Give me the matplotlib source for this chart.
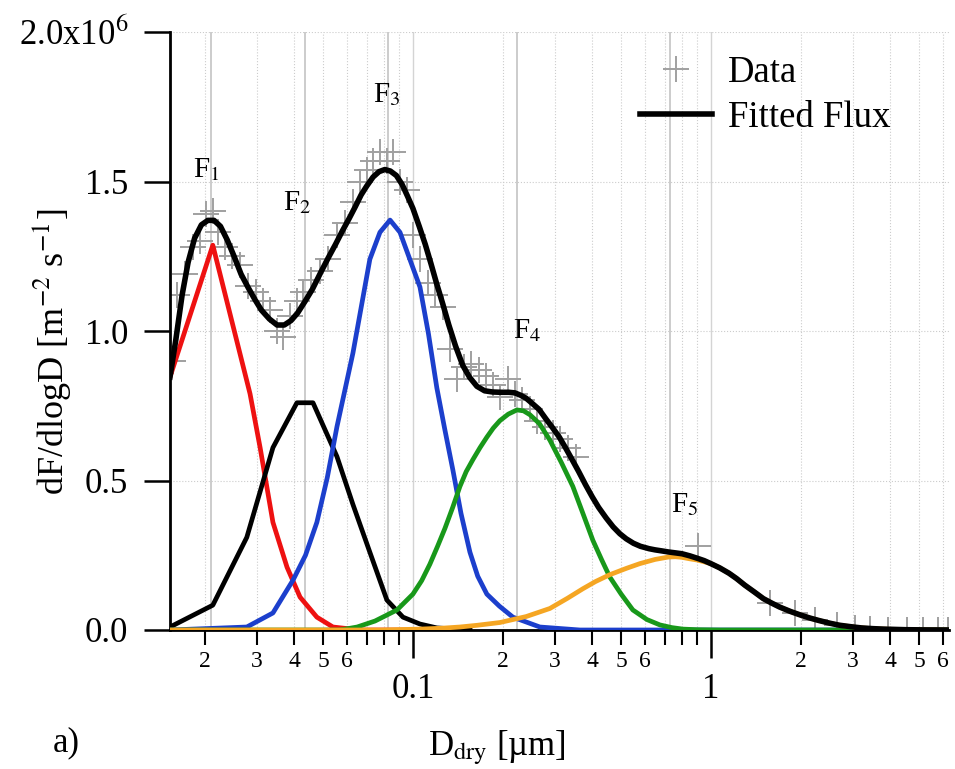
import numpy as np
import matplotlib.pyplot as plt
from matplotlib.lines import Line2D
from matplotlib.ticker import LogLocator, FuncFormatter, FixedLocator

plt.rcParams['font.family'] = ['Liberation Serif', 'DejaVu Serif']
plt.rcParams['mathtext.fontset'] = 'stix'

# values in units of 1e6 m^-2 s^-1, diameters in um
data_d = [0.01565, 0.01615, 0.01718, 0.01827, 0.01929, 0.0202, 0.02132, 0.02216,
          0.02339, 0.0247, 0.02627, 0.02795, 0.02973, 0.03138, 0.03312, 0.03497,
          0.03663, 0.03866, 0.04081, 0.04275, 0.04547, 0.04874, 0.05185, 0.05559,
          0.05913, 0.0629, 0.06639, 0.07008, 0.07341, 0.07749, 0.0818, 0.08568,
          0.09045, 0.09548, 0.1, 0.1056, 0.1123, 0.1185, 0.1261, 0.1331, 0.1405,
          0.1483, 0.1565, 0.1665, 0.1758, 0.1855, 0.1958, 0.2084, 0.2199, 0.2321,
          0.247, 0.2607, 0.2773, 0.295, 0.3113, 0.3312, 0.3524,
          0.9045, 1.578, 1.913, 2.234, 2.647, 3.042, 3.417, 3.926, 4.547, 5.145,
          5.776, 6.243]
data_f = [0.90, 1.12, 1.19, 1.28, 1.30, 1.39, 1.40, 1.33, 1.28, 1.25, 1.22, 1.15,
          1.13, 1.10, 1.07, 1.00, 0.98, 1.05, 1.10, 1.13, 1.17, 1.20, 1.24, 1.32,
          1.36, 1.43, 1.50, 1.54, 1.57, 1.60, 1.57, 1.60, 1.50, 1.47, 1.32, 1.24,
          1.16, 1.12, 1.08, 0.94, 0.84, 0.88, 0.89, 0.87, 0.85, 0.82, 0.78, 0.84,
          0.79, 0.77, 0.74, 0.70, 0.68, 0.66, 0.64, 0.61, 0.58,
          0.28, 0.09, 0.057, 0.033, 0.017, 0.007, 0.003, 0.001, 0.0, 0.0, 0.0, 0.0]

fit_d = [0.0153, 0.016, 0.0168, 0.0176, 0.0185, 0.0195, 0.0205, 0.0215, 0.0226,
         0.0238, 0.0251, 0.0265, 0.028, 0.0295, 0.031, 0.033, 0.035, 0.037, 0.039,
         0.041, 0.0435, 0.046, 0.049, 0.052, 0.055, 0.058, 0.061, 0.064, 0.067,
         0.070, 0.0735, 0.077, 0.0805, 0.084, 0.088, 0.092, 0.096, 0.100, 0.105,
         0.110, 0.115, 0.120, 0.126, 0.132, 0.139, 0.147, 0.155, 0.164, 0.174,
         0.185, 0.197, 0.21, 0.22, 0.23, 0.24, 0.25, 0.265, 0.28, 0.295, 0.31,
         0.325, 0.34, 0.36, 0.38, 0.40, 0.42, 0.445, 0.47, 0.495, 0.52, 0.55, 0.58,
         0.62, 0.65, 0.69, 0.72, 0.76, 0.80, 0.85, 0.90, 0.95, 1.0, 1.07, 1.15,
         1.22, 1.3, 1.4, 1.5, 1.6, 1.7, 1.85, 2.0, 2.15, 2.3, 2.5, 2.7, 2.95, 3.2,
         3.5, 3.8, 4.5, 5.3, 6.3]
fit_total = [0.846, 0.97, 1.12, 1.23, 1.31, 1.355, 1.37, 1.37, 1.35, 1.305, 1.25,
             1.19, 1.145, 1.105, 1.07, 1.04, 1.02, 1.02, 1.035, 1.06, 1.10, 1.14,
             1.195, 1.245, 1.29, 1.335, 1.375, 1.415, 1.455, 1.485, 1.515, 1.533,
             1.54, 1.535, 1.52, 1.49, 1.45, 1.41, 1.35, 1.29, 1.225, 1.16, 1.09,
             1.02, 0.95, 0.885, 0.845, 0.815, 0.80, 0.796, 0.795, 0.795, 0.793,
             0.785, 0.775, 0.76, 0.738, 0.705, 0.675, 0.645, 0.61, 0.575, 0.53,
             0.485, 0.445, 0.41, 0.375, 0.345, 0.322, 0.305, 0.29, 0.28, 0.272,
             0.268, 0.264, 0.261, 0.258, 0.255, 0.248, 0.24, 0.232, 0.222, 0.208,
             0.19, 0.172, 0.15, 0.127, 0.105, 0.09, 0.077, 0.062, 0.05, 0.04, 0.032,
             0.023, 0.016, 0.011, 0.007, 0.0045, 0.003, 0.001, 0.0003, 0.0]

f1_d = [0.0153, 0.0213, 0.0284, 0.0307, 0.0339, 0.0378, 0.0418, 0.0476, 0.0539, 0.0664, 0.1]
f1 = [0.846, 1.287, 0.79, 0.61, 0.36, 0.21, 0.11, 0.043, 0.01, 0.0, 0.0]

f2_d = [0.0153, 0.0213, 0.0277, 0.0339, 0.0408, 0.0462, 0.0556, 0.0629, 0.0717,
        0.0818, 0.0926, 0.1056, 0.1203, 0.1554]
f2 = [0.01, 0.083, 0.31, 0.61, 0.76, 0.76, 0.58, 0.42, 0.26, 0.10, 0.043, 0.02, 0.007, 0.0]

f3_d = [0.0153, 0.0277, 0.0339, 0.0396, 0.0436, 0.0476, 0.0516, 0.0556, 0.0629,
        0.0717, 0.0775, 0.0838, 0.0905, 0.1056, 0.1128, 0.1203, 0.128, 0.1362,
        0.145, 0.1554, 0.165, 0.1771, 0.195, 0.2166, 0.2668, 0.3634, 6.3]
f3 = [0.0, 0.01, 0.057, 0.167, 0.25, 0.36, 0.51, 0.68, 0.926, 1.24, 1.33, 1.371,
      1.33, 1.147, 0.99, 0.81, 0.67, 0.535, 0.39, 0.26, 0.18, 0.12, 0.08, 0.043,
      0.01, 0.0, 0.0]

f4_d = [0.0153, 0.0569, 0.065, 0.0746, 0.0884, 0.1, 0.107, 0.114, 0.121, 0.1281,
        0.136, 0.1438, 0.151, 0.159, 0.168, 0.1771, 0.186, 0.1958, 0.209, 0.2234,
        0.235, 0.247, 0.266, 0.2882, 0.315, 0.3442, 0.372, 0.4018, 0.43, 0.4581,
        0.50, 0.5473, 0.61, 0.6745, 0.74, 0.8054, 0.9, 1.072, 6.3]
f4 = [0.0, 0.0, 0.01, 0.03, 0.067, 0.12, 0.165, 0.22, 0.28, 0.34, 0.41, 0.48, 0.53,
      0.57, 0.61, 0.645, 0.675, 0.70, 0.722, 0.736, 0.733, 0.72, 0.69, 0.635, 0.56,
      0.48, 0.39, 0.30, 0.235, 0.177, 0.12, 0.067, 0.035, 0.017, 0.008, 0.003,
      0.001, 0.0, 0.0]

f5_d = [0.0153, 0.0775, 0.1056, 0.125, 0.1438, 0.165, 0.1958, 0.24, 0.2882, 0.33,
        0.372, 0.41, 0.4581, 0.52, 0.5777, 0.65, 0.72, 0.76, 0.80, 0.85, 0.90, 0.95,
        1.0, 1.07, 1.15, 1.22, 1.3, 1.4, 1.5, 1.6, 1.7, 1.85, 2.0, 2.15, 2.3, 2.5,
        2.7, 2.95, 3.2, 3.5, 3.8, 4.5, 6.3]
f5 = [0.0, 0.0, 0.003, 0.006, 0.01, 0.016, 0.025, 0.045, 0.072, 0.106, 0.138, 0.162,
      0.185, 0.206, 0.222, 0.236, 0.244, 0.245, 0.243, 0.238, 0.234, 0.228, 0.222,
      0.208, 0.19, 0.172, 0.15, 0.127, 0.105, 0.09, 0.077, 0.062, 0.05, 0.04, 0.032,
      0.023, 0.016, 0.011, 0.007, 0.0045, 0.003, 0.001, 0.0]

mode_d = [0.021, 0.0435, 0.0824, 0.223, 0.73]
mode_names = ['F$_1$', 'F$_2$', 'F$_3$', 'F$_4$', 'F$_5$']

fig = plt.figure(figsize=(9.55, 7.69), dpi=100)
ax = fig.add_axes([170/955, 1 - 630/769, 779/955, 598/769])

for d in mode_d:
    ax.axvline(d, color='#c8c8c8', lw=1.3, zorder=0)

ax.plot(data_d, data_f, ls='none', marker='+', ms=19, mew=1.4, color='#a0a0a0', zorder=1)

ax.plot(f1_d, f1, color='#ee1111', lw=3.4, zorder=2)
ax.plot(f2_d, f2, color='black', lw=3.4, zorder=2)
ax.plot(f3_d, f3, color='#1c3fcc', lw=3.4, zorder=3)
ax.plot(f4_d, f4, color='#18981a', lw=3.4, zorder=4)
ax.plot(f5_d, f5, color='#f5a623', lw=3.4, zorder=5)
ax.plot(fit_d, fit_total, color='black', lw=4.0, zorder=6)

ax.set_xscale('log')
ax.set_xlim(0.0153, 6.3)
ax.set_ylim(0, 2.0)

ax.xaxis.set_major_locator(FixedLocator([0.1, 1]))
ax.xaxis.set_major_formatter(FuncFormatter(lambda v, p: '%g' % v))
ax.xaxis.set_minor_locator(LogLocator(base=10, subs=np.arange(2, 10)))

def minor_label(v, pos):
    digit = int(round(v / 10 ** np.floor(np.log10(v) + 1e-9)))
    return str(digit) if digit <= 6 else ''

ax.xaxis.set_minor_formatter(FuncFormatter(minor_label))

ax.set_yticks([0, 0.5, 1.0, 1.5, 2.0])
ax.set_yticklabels(['0.0', '0.5', '1.0', '1.5', '2.0x10$^{6}$'])

ax.tick_params(axis='x', which='major', direction='out', length=20, width=1.8,
               labelsize=25, pad=11)
ax.tick_params(axis='x', which='minor', direction='out', length=11, width=1.5,
               labelsize=17, pad=4)
ax.tick_params(axis='y', direction='out', length=19, width=1.8, labelsize=25, pad=11)

ax.grid(True, which='major', axis='x', color='#d4d4d4', lw=1.0)
ax.grid(True, which='minor', axis='x', color='#cccccc', lw=0.8, ls=':')
ax.grid(True, which='major', axis='y', color='#cccccc', lw=0.8, ls=':')
ax.set_axisbelow(True)

for side in ['top', 'right']:
    ax.spines[side].set_visible(False)
ax.spines['left'].set_linewidth(2)
ax.spines['bottom'].set_linewidth(2)

ax.set_ylabel('dF/dlogD [m$^{-2}$ s$^{-1}$]', fontsize=26)
ax.yaxis.set_label_coords(-0.125, 0.465)
ax.set_xlabel('D$_{\\mathrm{dry}}$ [µm]', fontsize=25)
ax.xaxis.set_label_coords(0.42, -0.165)

label_pos = [(0.0202, 1.54), (0.0408, 1.43), (0.0818, 1.79), (0.241, 1.0), (0.818, 0.42)]
for name, (x, y) in zip(mode_names, label_pos):
    ax.text(x, y, name, fontsize=21, ha='center', va='center')

fig.text(66/955, 1 - 743/769, 'a)', fontsize=25, ha='center', va='center')

handles = [Line2D([], [], ls='none', marker='+', ms=19, mew=1.4, color='#a0a0a0'),
           Line2D([], [], color='black', lw=4.0)]
fig.legend(handles, ['Data', 'Fitted Flux'], loc='upper left',
           bbox_to_anchor=(640/955, 1 - 55/769), frameon=False, fontsize=26.5,
           handlelength=1.95, handletextpad=0.45, labelspacing=0.3,
           borderpad=0, borderaxespad=0)

fig.savefig('out.png', dpi=100)
